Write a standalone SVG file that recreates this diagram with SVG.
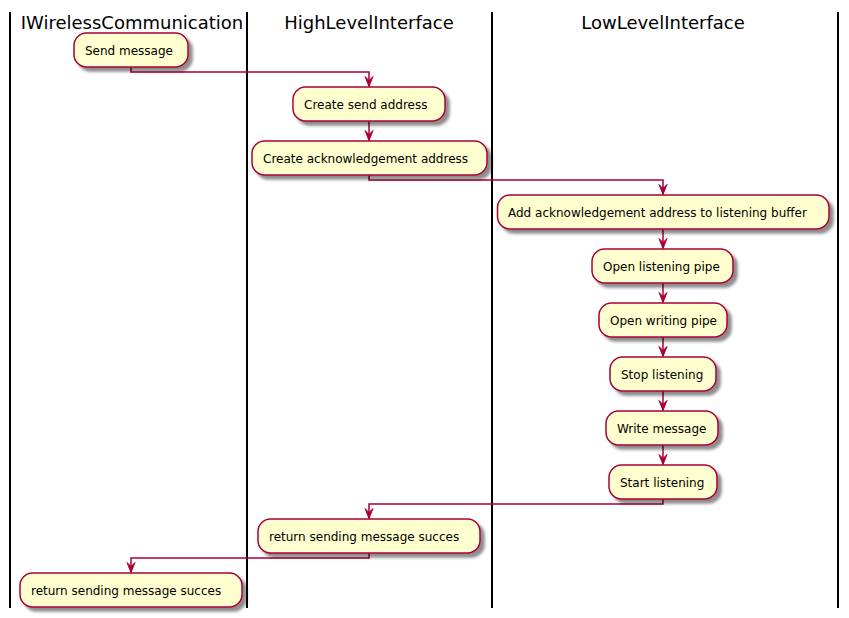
<svg xmlns="http://www.w3.org/2000/svg" width="849" height="618" viewBox="0 0 849 618">
<defs>
<filter id="sh" x="-10%" y="-20%" width="130%" height="160%">
<feGaussianBlur in="SourceAlpha" stdDeviation="1.8"/>
<feOffset dx="4" dy="4" result="b"/>
<feColorMatrix in="b" type="matrix" values="0 0 0 0 0  0 0 0 0 0  0 0 0 0 0  0 0 0 0.45 0" result="s"/>
<feMerge><feMergeNode in="s"/><feMergeNode in="SourceGraphic"/></feMerge>
</filter>
<marker id="ah" markerWidth="12" markerHeight="10" viewBox="0 0 12 10" refX="11" refY="5" orient="auto" markerUnits="userSpaceOnUse">
<polygon points="1,1 11,5 1,9 5,5" fill="#A80036" stroke="#A80036" stroke-width="1" stroke-linejoin="miter"/>
</marker>
</defs>
<style>
.lane{stroke:#000;stroke-width:2}
.title{font-family:"DejaVu Sans",sans-serif;font-size:18px;fill:#000;text-anchor:middle}
.box rect{fill:#FEFECE;stroke:#A80036;stroke-width:1.5;filter:url(#sh)}
.box text{font-family:"DejaVu Sans",sans-serif;font-size:12px;fill:#000}
.conn path{fill:none;stroke:#A80036;stroke-width:1.5}
</style>
<rect width="849" height="618" fill="#fff"/>
<g id="lanes">
<line class="lane" x1="10" y1="12" x2="10" y2="608"/>
<line class="lane" x1="247" y1="12" x2="247" y2="608"/>
<line class="lane" x1="492" y1="12" x2="492" y2="608"/>
<line class="lane" x1="838" y1="12" x2="838" y2="608"/>
<text class="title" x="132" y="29">IWirelessCommunication</text>
<text class="title" x="369" y="29">HighLevelInterface</text>
<text class="title" x="663" y="29">LowLevelInterface</text>
</g>
<g id="connectors" class="conn">
<path d="M131,67.5 V72 H369 V86.5" marker-end="url(#ah)"/>
<path d="M369,121.5 V140.5" marker-end="url(#ah)"/>
<path d="M369,175.5 V180 H663 V194.5" marker-end="url(#ah)"/>
<path d="M663,229 V248.5" marker-end="url(#ah)"/>
<path d="M663,283 V302.5" marker-end="url(#ah)"/>
<path d="M663,337 V356.5" marker-end="url(#ah)"/>
<path d="M663,391 V410.5" marker-end="url(#ah)"/>
<path d="M663,445 V464.5" marker-end="url(#ah)"/>
<path d="M663,499 V504 H369 V518.5" marker-end="url(#ah)"/>
<path d="M369,553 V558 H131 V572.5" marker-end="url(#ah)"/>
</g>
<g id="n1" class="box"><rect x="74" y="33" width="114" height="34" rx="12.5"/><text x="85" y="55">Send message</text></g>
<g id="n2" class="box"><rect x="293" y="87" width="152" height="34" rx="12.5"/><text x="304" y="109">Create send address</text></g>
<g id="n3" class="box"><rect x="252" y="141" width="235" height="34" rx="12.5"/><text x="263" y="163">Create acknowledgement address</text></g>
<g id="n4" class="box"><rect x="497.5" y="195" width="331.5" height="34" rx="12.5"/><text x="508" y="217">Add acknowledgement address to listening buffer</text></g>
<g id="n5" class="box"><rect x="592" y="249" width="141" height="34" rx="12.5"/><text x="603" y="271">Open listening pipe</text></g>
<g id="n6" class="box"><rect x="599" y="303" width="128" height="34" rx="12.5"/><text x="610" y="325">Open writing pipe</text></g>
<g id="n7" class="box"><rect x="610" y="357" width="106" height="34" rx="12.5"/><text x="621" y="379">Stop listening</text></g>
<g id="n8" class="box"><rect x="606" y="411" width="112" height="34" rx="12.5"/><text x="617" y="433">Write message</text></g>
<g id="n9" class="box"><rect x="609" y="465" width="108" height="34" rx="12.5"/><text x="620" y="487">Start listening</text></g>
<g id="n10" class="box"><rect x="258" y="519" width="222" height="34" rx="12.5"/><text x="269" y="541">return sending message succes</text></g>
<g id="n11" class="box"><rect x="20" y="573" width="222" height="34" rx="12.5"/><text x="31" y="595">return sending message succes</text></g>
</svg>
